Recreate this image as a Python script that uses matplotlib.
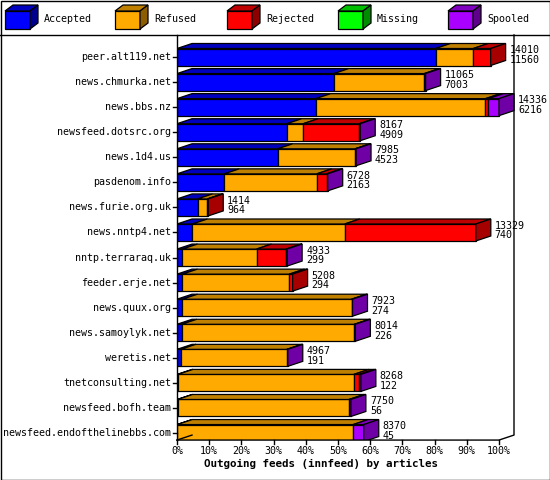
import matplotlib
matplotlib.use("Agg")
import matplotlib.pyplot as plt
from matplotlib.patches import Polygon, Rectangle
import matplotlib.colors as mc

hosts = ["peer.alt119.net", "news.chmurka.net", "news.bbs.nz", "newsfeed.dotsrc.org",
         "news.1d4.us", "pasdenom.info", "news.furie.org.uk", "news.nntp4.net",
         "nntp.terraraq.uk", "feeder.erje.net", "news.quux.org", "news.samoylyk.net",
         "weretis.net", "tnetconsulting.net", "newsfeed.bofh.team", "newsfeed.endofthelinebbs.com"]
accepted = [80.3, 48.7, 43.1, 34.1, 31.3, 14.7, 6.4, 4.8, 1.7, 1.7, 1.7, 1.5, 1.2, 0.3, 0.2, 0.1]
refused  = [11.7, 28.1, 52.7, 5.1, 24.0, 28.7, 3.0, 47.3, 23.0, 33.2, 52.5, 53.6, 32.9, 54.6, 53.2, 54.6]
rejected = [5.4, 0.0, 0.9, 17.4, 0.0, 3.1, 0.3, 40.7, 9.2, 1.0, 0.0, 0.0, 0.0, 1.7, 0.0, 0.0]
missing  = [0, 0, 0, 0, 0, 0, 0, 0, 0, 0, 0, 0, 0, 0, 0, 0]
spooled  = [0.0, 0.4, 3.3, 0.3, 0.3, 0.3, 0.0, 0.0, 0.3, 0.0, 0.3, 0.3, 0.3, 0.5, 0.6, 3.3]
offered  = [14010, 11065, 14336, 8167, 7985, 6728, 1414, 13329, 4933, 5208, 7923, 8014, 4967, 8268, 7750, 8370]
acc_cnt  = [11560, 7003, 6216, 4909, 4523, 2163, 964, 740, 299, 294, 274, 226, 191, 122, 56, 45]
series_names = ["Accepted", "Refused", "Rejected", "Missing", "Spooled"]
colors = ["#0000FF", "#FFAA00", "#FF0000", "#00FF00", "#AA00FF"]
ticks = [0, 10, 20, 30, 40, 50, 60, 70, 80, 90, 100]

def dark(c, f=0.75):
    r, g, b = mc.to_rgb(c)
    return (r * f, g * f, b * f)

W, H = 550, 480
fig = plt.figure(figsize=(5.5, 4.8), dpi=100)
fig.patch.set_facecolor("white")
mono = "DejaVu Sans Mono"
fs = 7.2

ax = fig.add_axes([177 / W, 1 - 440 / H, (520 - 177) / W, (440 - 35) / H])
pxx = 3.22
ax.set_xlim(0, (520 - 177) / pxx)
row = 25.07
ax.set_ylim((440 - 57) / row, (35 - 57) / row)
ax.axis("off")

dx = 15 / pxx
dy = 5 / row
h = 17 / row
lk = dict(edgecolor="black", linewidth=0.9)

ax.plot([0, 100, 100 + dx, 100 + dx], [15.28, 15.28, 15.28 - dy, -0.88], color="black", lw=1, clip_on=False)
ax.plot([0, 0], [-0.88, 15.28], color="black", lw=1, clip_on=False)
ax.plot([0, dx], [15.28, 15.28 - dy], color="black", lw=1, clip_on=False)
for i in range(len(hosts)):
    ax.plot([-4 / pxx, 0], [i, i], color="black", lw=1, clip_on=False)
for t in ticks:
    ax.plot([t, t], [15.28, 15.28 + 4 / row], color="black", lw=1, clip_on=False)
    ax.text(t, 15.28 + 6 / row, f"{t}%", ha="center", va="top", fontsize=fs, family=mono)
ax.text(50 - 17 / pxx, 15.28 + 19 / row, "Outgoing feeds (innfeed) by articles", ha="center", va="top",
        fontsize=7.8, family=mono, fontweight="bold")

for i, host in enumerate(hosts):
    ax.text(-6 / pxx, i, host, ha="right", va="center", fontsize=fs, family=mono)
    vals = [accepted[i], refused[i], rejected[i], missing[i], spooled[i]]
    x0 = 0
    yt, yb = i - h / 2, i + h / 2
    last = None
    for v, c in zip(vals, colors):
        if v <= 0:
            continue
        x1 = x0 + v
        ax.add_patch(Rectangle((x0, yt), v, h, facecolor=c, **lk))
        ax.add_patch(Polygon([(x0, yt), (x1, yt), (x1 + dx, yt - dy), (x0 + dx, yt - dy)],
                             closed=True, facecolor=dark(c), **lk))
        last = c
        x0 = x1
    ax.add_patch(Polygon([(x0, yt), (x0 + dx, yt - dy), (x0 + dx, yb - dy), (x0, yb)],
                         closed=True, facecolor=dark(last, 0.65), **lk))
    ax.text(x0 + dx + 4 / pxx, i - 2 / row, f"{offered[i]}\n{acc_cnt[i]}", ha="left", va="center",
            fontsize=fs, family=mono, linespacing=0.95, clip_on=False)

lax = fig.add_axes([0, 0, 1, 1])
lax.set_xlim(0, W)
lax.set_ylim(H, 0)
lax.axis("off")
lax.add_patch(Rectangle((0.5, 0.5), W - 1, H - 1, fill=False, edgecolor="black", lw=1))
lax.plot([0, W], [35, 35], color="black", lw=1)
lx = [5, 115, 227, 338, 448]
for x, name, c in zip(lx, series_names, colors):
    lax.add_patch(Rectangle((x, 11), 25, 18, facecolor=c, edgecolor="black", lw=0.9))
    lax.add_patch(Polygon([(x, 11), (x + 25, 11), (x + 33, 5), (x + 8, 5)], closed=True,
                          facecolor=dark(c), edgecolor="black", lw=0.9))
    lax.add_patch(Polygon([(x + 25, 11), (x + 33, 5), (x + 33, 23), (x + 25, 29)], closed=True,
                          facecolor=dark(c, 0.55), edgecolor="black", lw=0.9))
    lax.text(x + 39, 19, name, ha="left", va="center", fontsize=fs, family=mono)

fig.savefig("out.png", dpi=100)
